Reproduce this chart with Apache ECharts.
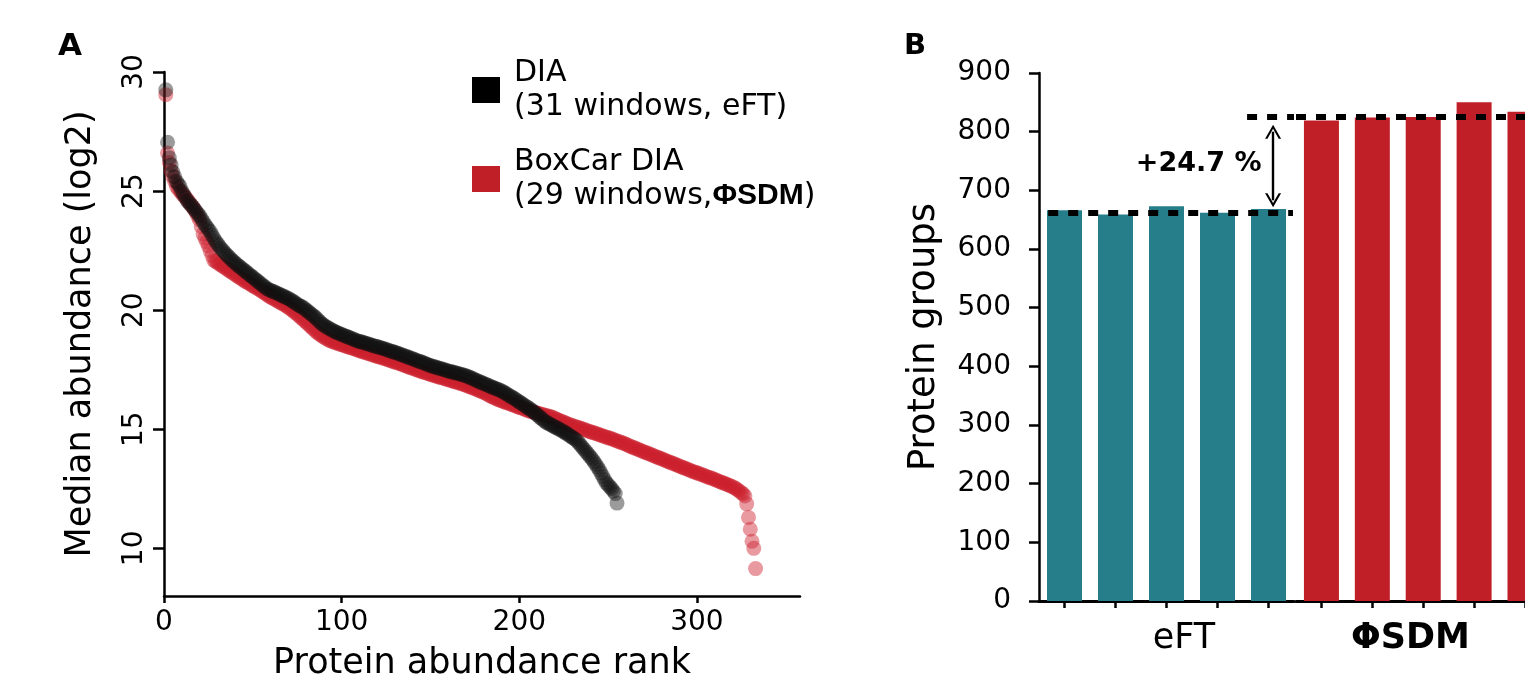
<!DOCTYPE html>
<html>
<head>
<meta charset="utf-8">
<script src="https://cdn.jsdelivr.net/npm/echarts@6/dist/echarts.min.js"></script>
<style>
  html, body { margin: 0; padding: 0; background: #fff; }
  #main { width: 1525px; height: 686px; }
</style>
</head>
<body>
<div id="main"></div>
<script>
// panel A: median abundance (log2), one value per protein abundance rank (rank = index + 1)
const diaValues = [
  29.25, 27.05, 26.40, 26.10, 25.80, 25.60, 25.40, 25.30, 25.20, 25.00,
  24.88, 24.74, 24.60, 24.52, 24.43, 24.35, 24.25, 24.16, 24.06, 23.97,
  23.85, 23.72, 23.60, 23.50, 23.40, 23.30, 23.16, 23.03, 22.90, 22.80,
  22.70, 22.60, 22.52, 22.43, 22.35, 22.27, 22.20, 22.12, 22.05, 21.99,
  21.92, 21.86, 21.80, 21.74, 21.68, 21.62, 21.56, 21.50, 21.44, 21.38,
  21.32, 21.26, 21.20, 21.14, 21.08, 21.02, 20.96, 20.90, 20.87, 20.83,
  20.80, 20.77, 20.73, 20.70, 20.67, 20.63, 20.60, 20.56, 20.52, 20.49,
  20.45, 20.40, 20.35, 20.30, 20.25, 20.20, 20.16, 20.13, 20.07, 20.01,
  19.95, 19.89, 19.83, 19.77, 19.71, 19.64, 19.56, 19.48, 19.42, 19.37,
  19.32, 19.27, 19.23, 19.19, 19.15, 19.11, 19.07, 19.04, 19.01, 18.98,
  18.95, 18.92, 18.89, 18.86, 18.83, 18.80, 18.77, 18.74, 18.71, 18.69,
  18.67, 18.65, 18.62, 18.60, 18.58, 18.56, 18.53, 18.51, 18.49, 18.47,
  18.44, 18.42, 18.40, 18.38, 18.35, 18.33, 18.30, 18.28, 18.25, 18.23,
  18.20, 18.18, 18.15, 18.12, 18.10, 18.07, 18.04, 18.01, 17.98, 17.96,
  17.93, 17.90, 17.87, 17.85, 17.82, 17.79, 17.76, 17.73, 17.70, 17.68,
  17.65, 17.63, 17.61, 17.58, 17.56, 17.54, 17.52, 17.50, 17.47, 17.45,
  17.43, 17.41, 17.39, 17.37, 17.35, 17.33, 17.31, 17.29, 17.27, 17.25,
  17.22, 17.18, 17.15, 17.12, 17.08, 17.05, 17.02, 16.98, 16.95, 16.92,
  16.89, 16.86, 16.83, 16.79, 16.76, 16.73, 16.70, 16.67, 16.65, 16.61,
  16.57, 16.52, 16.48, 16.43, 16.39, 16.34, 16.30, 16.25, 16.20, 16.15,
  16.10, 16.05, 16.00, 15.95, 15.90, 15.85, 15.80, 15.74, 15.67, 15.61,
  15.55, 15.48, 15.42, 15.36, 15.30, 15.26, 15.22, 15.18, 15.14, 15.10,
  15.06, 15.02, 14.98, 14.94, 14.90, 14.85, 14.80, 14.75, 14.70, 14.65,
  14.60, 14.55, 14.47, 14.38, 14.29, 14.20, 14.11, 14.02, 13.93, 13.84,
  13.75, 13.64, 13.53, 13.42, 13.30, 13.16, 13.02, 12.88, 12.75, 12.67,
  12.58, 12.50, 12.40, 12.30, 11.90
]
const boxcarValues = [
  29.05, 26.60, 26.20, 25.85, 25.60, 25.40, 25.20, 25.10, 25.00, 24.90,
  24.82, 24.74, 24.65, 24.55, 24.45, 24.35, 24.25, 24.10, 23.95, 23.80,
  23.50, 23.20, 23.03, 22.87, 22.70, 22.50, 22.30, 22.10, 22.05, 22.00,
  21.95, 21.90, 21.85, 21.80, 21.75, 21.70, 21.65, 21.60, 21.55, 21.50,
  21.45, 21.40, 21.35, 21.30, 21.25, 21.20, 21.16, 21.12, 21.07, 21.03,
  20.98, 20.94, 20.90, 20.85, 20.80, 20.75, 20.70, 20.65, 20.60, 20.55,
  20.51, 20.47, 20.43, 20.39, 20.34, 20.30, 20.26, 20.22, 20.17, 20.12,
  20.07, 20.01, 19.95, 19.89, 19.83, 19.77, 19.70, 19.63, 19.57, 19.50,
  19.43, 19.36, 19.29, 19.22, 19.15, 19.08, 19.02, 18.97, 18.92, 18.87,
  18.82, 18.78, 18.74, 18.71, 18.68, 18.65, 18.62, 18.60, 18.57, 18.55,
  18.53, 18.50, 18.48, 18.45, 18.43, 18.40, 18.38, 18.35, 18.33, 18.30,
  18.28, 18.25, 18.23, 18.20, 18.18, 18.16, 18.13, 18.11, 18.09, 18.06,
  18.04, 18.02, 17.99, 17.97, 17.95, 17.92, 17.90, 17.87, 17.85, 17.82,
  17.80, 17.77, 17.75, 17.72, 17.69, 17.67, 17.64, 17.61, 17.58, 17.56,
  17.53, 17.50, 17.48, 17.45, 17.43, 17.40, 17.38, 17.35, 17.33, 17.30,
  17.28, 17.26, 17.24, 17.21, 17.19, 17.17, 17.15, 17.12, 17.10, 17.08,
  17.06, 17.04, 17.01, 16.99, 16.97, 16.94, 16.92, 16.90, 16.87, 16.85,
  16.82, 16.79, 16.76, 16.73, 16.70, 16.67, 16.64, 16.61, 16.58, 16.55,
  16.51, 16.47, 16.43, 16.39, 16.36, 16.32, 16.28, 16.25, 16.22, 16.20,
  16.17, 16.14, 16.11, 16.09, 16.06, 16.03, 16.01, 15.98, 15.95, 15.92,
  15.90, 15.87, 15.84, 15.81, 15.78, 15.76, 15.74, 15.72, 15.70, 15.68,
  15.66, 15.64, 15.62, 15.60, 15.58, 15.56, 15.55, 15.52, 15.49, 15.45,
  15.42, 15.39, 15.36, 15.33, 15.30, 15.26, 15.23, 15.20, 15.18, 15.15,
  15.13, 15.10, 15.08, 15.05, 15.03, 15.00, 14.98, 14.95, 14.92, 14.90,
  14.87, 14.85, 14.82, 14.80, 14.77, 14.75, 14.72, 14.70, 14.67, 14.65,
  14.62, 14.60, 14.57, 14.54, 14.51, 14.49, 14.46, 14.43, 14.40, 14.37,
  14.34, 14.30, 14.27, 14.24, 14.21, 14.18, 14.15, 14.12, 14.09, 14.06,
  14.03, 14.00, 13.97, 13.94, 13.91, 13.88, 13.85, 13.82, 13.79, 13.76,
  13.73, 13.70, 13.67, 13.64, 13.61, 13.58, 13.55, 13.52, 13.49, 13.46,
  13.43, 13.40, 13.37, 13.34, 13.31, 13.28, 13.25, 13.22, 13.20, 13.17,
  13.14, 13.11, 13.09, 13.06, 13.03, 13.00, 12.98, 12.95, 12.92, 12.89,
  12.86, 12.83, 12.80, 12.77, 12.74, 12.71, 12.68, 12.65, 12.62, 12.59,
  12.55, 12.50, 12.45, 12.40, 12.34, 12.28, 12.20,
  11.87, 11.30, 10.80, 10.30, 10.00, 9.15
]
const rankTicks = [0, 100, 200, 300]
const abundanceTicks = [10, 15, 20, 25, 30]

// panel B: protein groups per run (run position on the group's axis)
const eftRuns = [1, 2, 3, 4, 5]
const sdmRuns = [1, 2, 3, 4, 5]
const eftGroups = [666, 659, 673, 662, 668]
const sdmGroups = [819, 824, 825, 850, 834]

// mean lines and the gain arrow, in run units of each group's axis
const eftMeanLines = [
  { value: 662, from: 0.68, to: 5.48 },
  { value: 825, from: 4.58, to: 5.5 }
]
const sdmMeanLines = [
  { value: 825, from: 0.5, to: 5 }
]
const gainArrow = { x: 5.09, from: 800, to: 683 }
const gainLabel = { x: 3.63, y: 745, text: '+24.7 %' }

const legendText = {
  'DIA': 'DIA\n(31 windows, eFT)',
  'BoxCar DIA': 'BoxCar DIA\n(29 windows,{b|ΦSDM})'
}

const FONT = 'DejaVu Sans'
const TEAL = '#267e8b'
const RED = '#c11f28'
const arrowHead = 'path://M0,12L6,0L12,12L10.2,12L6,3.6L1.8,12Z'

const myChart = echarts.init(document.getElementById('main'))

const axisLine = { show: true, onZero: false, lineStyle: { color: '#000', width: 2.5 } }
const tickStyle = { color: '#000', width: 2.5 }
const dashed = { color: '#000', width: 6, type: [10, 10] }

const meanLineData = lines => lines.map(l => [
  { coord: [l.from, l.value], symbol: 'none', lineStyle: dashed },
  { coord: [l.to, l.value], symbol: 'none' }
])

const option = {
  animation: false,
  backgroundColor: '#fff',
  textStyle: { fontFamily: FONT, color: '#000' },
  graphic: [
    { type: 'text', left: 58, top: 31, style: { text: 'A', font: 'bold 31px "DejaVu Sans"', fill: '#000' } },
    { type: 'text', left: 904, top: 32, style: { text: 'B', font: 'bold 29px "DejaVu Sans"', fill: '#000' } }
  ],
  legend: {
    orient: 'vertical',
    left: 467,
    top: 51,
    itemWidth: 28,
    itemHeight: 26,
    itemGap: 21,
    icon: 'rect',
    selectedMode: false,
    data: [
      { name: 'DIA', itemStyle: { color: '#000', opacity: 1 } },
      { name: 'BoxCar DIA', itemStyle: { color: RED, opacity: 1 } }
    ],
    formatter: name => legendText[name],
    textStyle: {
      fontFamily: FONT,
      fontSize: 30,
      lineHeight: 34,
      color: '#000',
      padding: [0, 0, 0, 9],
      rich: {
        b: { fontFamily: 'Liberation Sans', fontWeight: 'bold', fontSize: 30, lineHeight: 34, color: '#000' }
      }
    }
  },
  grid: [
    { left: 164, top: 72, right: 725, bottom: 85 },
    { left: 1039, top: 73, width: 255, bottom: 85 },
    { left: 1296, top: 73, right: 0, bottom: 85 }
  ],
  xAxis: [
    {
      gridIndex: 0,
      type: 'value',
      min: 0,
      max: 358,
      axisLine: axisLine,
      axisTick: { show: true, customValues: rankTicks, length: 7, lineStyle: tickStyle },
      axisLabel: { customValues: rankTicks, margin: 13, fontSize: 28, color: '#000', fontFamily: FONT },
      splitLine: { show: false },
      name: 'Protein abundance rank',
      nameLocation: 'middle',
      nameGap: 50,
      nameTextStyle: { fontSize: 35, color: '#000', fontFamily: FONT }
    },
    {
      gridIndex: 1,
      type: 'value',
      min: 0.5,
      max: 5.5,
      axisLine: { show: true, onZero: false, lineStyle: { color: '#000', width: 3 } },
      axisTick: { show: true, customValues: eftRuns, length: 7, lineStyle: tickStyle },
      axisLabel: { show: false },
      splitLine: { show: false },
      name: 'eFT',
      nameLocation: 'middle',
      nameGap: 20,
      nameTextStyle: { fontSize: 35, color: '#000', fontFamily: FONT, padding: [0, 0, 0, 35] }
    },
    {
      gridIndex: 2,
      type: 'value',
      min: 0.5,
      max: 5,
      axisLine: { show: true, onZero: false, lineStyle: { color: '#000', width: 3 } },
      axisTick: { show: true, customValues: sdmRuns, length: 7, lineStyle: tickStyle },
      axisLabel: { show: false },
      splitLine: { show: false },
      name: 'ΦSDM',
      nameLocation: 'middle',
      nameGap: 20,
      nameTextStyle: { fontSize: 35, fontWeight: 'bold', color: '#000', fontFamily: FONT }
    }
  ],
  yAxis: [
    {
      gridIndex: 0,
      type: 'value',
      min: 8,
      max: 30,
      axisLine: axisLine,
      axisTick: { show: true, customValues: abundanceTicks, length: 11, lineStyle: tickStyle },
      axisLabel: { customValues: abundanceTicks, rotate: 90, margin: 15, fontSize: 28, color: '#000', fontFamily: FONT },
      splitLine: { show: false },
      name: 'Median abundance (log2)',
      nameLocation: 'middle',
      nameGap: 66,
      nameTextStyle: { fontSize: 35, color: '#000', fontFamily: FONT }
    },
    {
      gridIndex: 1,
      type: 'value',
      min: 0,
      max: 900,
      interval: 100,
      axisLine: axisLine,
      axisTick: { show: true, length: 10, lineStyle: tickStyle },
      axisLabel: { margin: 28, fontSize: 28, color: '#000', fontFamily: FONT },
      splitLine: { show: false },
      name: 'Protein groups',
      nameLocation: 'middle',
      nameGap: 96,
      nameTextStyle: { fontSize: 37, color: '#000', fontFamily: FONT }
    },
    { gridIndex: 2, type: 'value', min: 0, max: 900, show: false }
  ],
  series: [
    {
      name: 'BoxCar DIA',
      type: 'scatter',
      xAxisIndex: 0,
      yAxisIndex: 0,
      symbolSize: 15,
      itemStyle: { color: '#cc1f2d', opacity: 0.45 },
      data: boxcarValues.map((v, i) => [i + 1, v])
    },
    {
      name: 'DIA',
      type: 'scatter',
      xAxisIndex: 0,
      yAxisIndex: 0,
      symbolSize: 15,
      itemStyle: { color: '#111', opacity: 0.42 },
      data: diaValues.map((v, i) => [i + 1, v])
    },
    {
      name: 'eFT',
      type: 'bar',
      xAxisIndex: 1,
      yAxisIndex: 1,
      barWidth: 35,
      itemStyle: { color: TEAL },
      data: eftGroups.map((v, i) => [eftRuns[i], v]),
      markLine: {
        silent: true,
        animation: false,
        label: { show: false },
        data: [
          ...meanLineData(eftMeanLines),
          [
            { coord: [gainArrow.x, gainArrow.from], symbol: arrowHead, symbolSize: [16, 14], lineStyle: { color: '#000', width: 2.4, type: 'solid' } },
            { coord: [gainArrow.x, gainArrow.to], symbol: arrowHead, symbolSize: [16, 14] }
          ]
        ]
      }
    },
    {
      name: 'ΦSDM',
      type: 'bar',
      xAxisIndex: 2,
      yAxisIndex: 2,
      barWidth: 35,
      itemStyle: { color: RED },
      data: sdmGroups.map((v, i) => [sdmRuns[i], v]),
      markLine: {
        silent: true,
        animation: false,
        label: { show: false },
        data: meanLineData(sdmMeanLines)
      }
    },
    {
      name: 'gain',
      type: 'scatter',
      xAxisIndex: 1,
      yAxisIndex: 1,
      z: 10,
      symbolSize: 0,
      silent: true,
      itemStyle: { opacity: 1 },
      label: {
        show: true,
        position: 'inside',
        formatter: gainLabel.text,
        fontSize: 27,
        fontWeight: 'bold',
        color: '#000',
        opacity: 1,
        textBorderWidth: 0,
        fontFamily: FONT
      },
      data: [[gainLabel.x, gainLabel.y]]
    }
  ]
}

myChart.setOption(option)
</script>
</body>
</html>
